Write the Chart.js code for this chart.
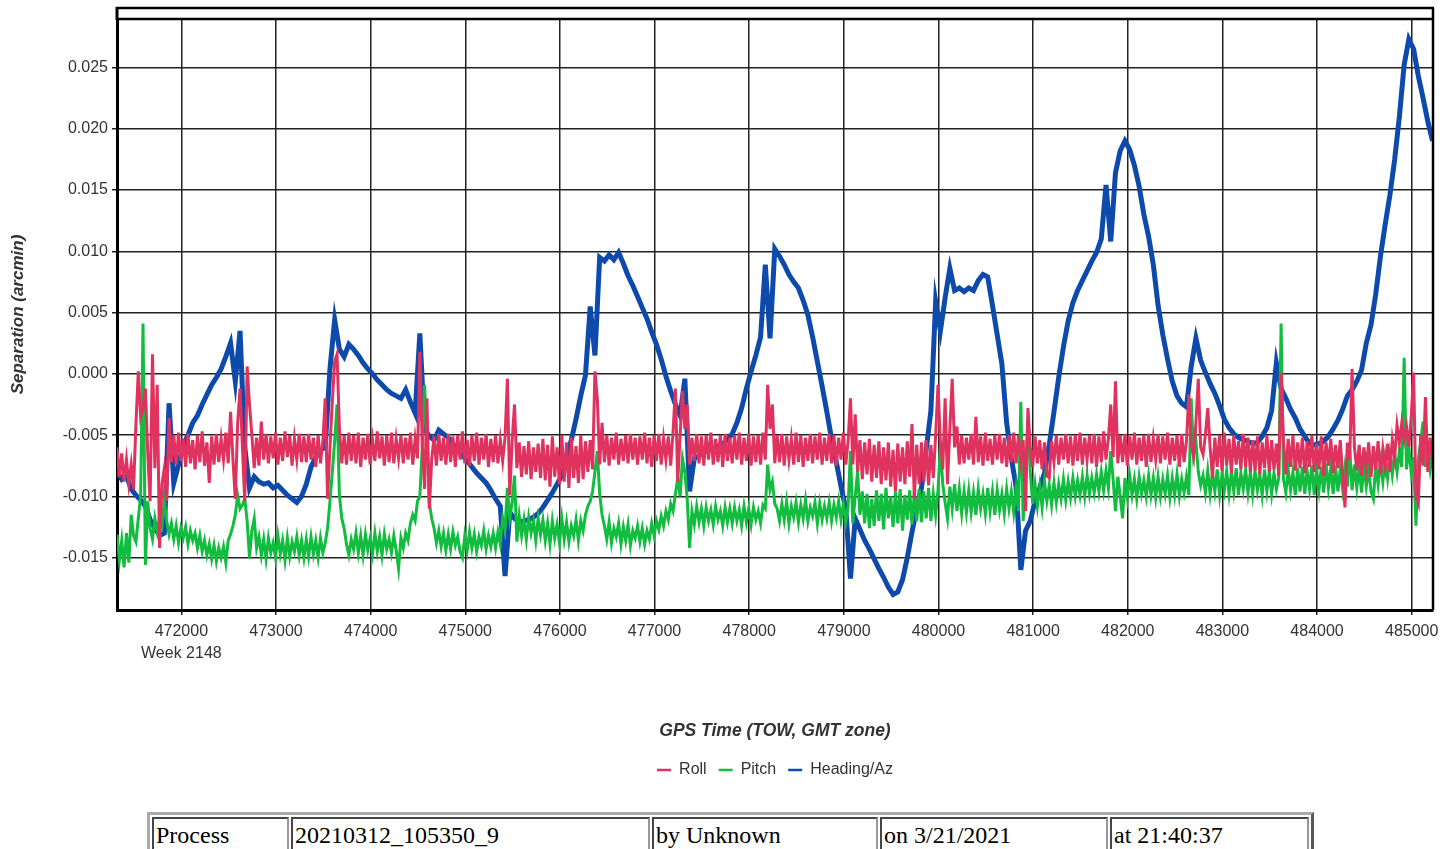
<!DOCTYPE html>
<html>
<head>
<meta charset="utf-8">
<script src="https://cdn.jsdelivr.net/npm/chart.js@4.4.0/dist/chart.umd.min.js"></script>
<style>
  body { margin: 0; background: #fff; }
  #wrap { position: absolute; left: 0; top: 0; width: 1456px; height: 800px; }
  table.info {
    position: absolute; left: 147px; top: 812px;
    border: 3px outset #aaa; border-spacing: 2px;
    font-family: 'Liberation Serif', 'Times New Roman', serif; font-size: 24px;
  }
  table.info td { border: 2px inset #999; padding: 3px 2px 0 2px; height: 40px; vertical-align: top; }
</style>
</head>
<body>
<div id="wrap"><canvas id="chart" width="1456" height="800"></canvas></div>
<table class="info">
  <tr>
    <td style="width:129px">Process</td>
    <td style="width:351px">20210312_105350_9</td>
    <td style="width:218px">by Unknown</td>
    <td style="width:220px">on 3/21/2021</td>
    <td style="width:191px">at 21:40:37</td>
  </tr>
</table>
<script>
// GPS time of week (s) for the heading samples, every 50 s
const times = [
  471320,471370,471420,471470,471520,471570,471620,471670,471720,471770,
  471820,471870,471920,471970,472020,472070,472120,472170,472220,472270,
  472320,472370,472420,472470,472520,472570,472620,472670,472720,472770,
  472820,472870,472920,472970,473020,473070,473120,473170,473220,473270,
  473320,473370,473420,473470,473520,473570,473620,473670,473720,473770,
  473820,473870,473920,473970,474020,474070,474120,474170,474220,474270,
  474320,474370,474420,474470,474520,474570,474620,474670,474720,474770,
  474820,474870,474920,474970,475020,475070,475120,475170,475220,475270,
  475320,475370,475420,475470,475520,475570,475620,475670,475720,475770,
  475820,475870,475920,475970,476020,476070,476120,476170,476220,476270,
  476320,476370,476420,476470,476520,476570,476620,476670,476720,476770,
  476820,476870,476920,476970,477020,477070,477120,477170,477220,477270,
  477320,477370,477420,477470,477520,477570,477620,477670,477720,477770,
  477820,477870,477920,477970,478020,478070,478120,478170,478220,478270,
  478320,478370,478420,478470,478520,478570,478620,478670,478720,478770,
  478820,478870,478920,478970,479020,479070,479120,479170,479220,479270,
  479320,479370,479420,479470,479520,479570,479620,479670,479720,479770,
  479820,479870,479920,479970,480020,480070,480120,480170,480220,480270,
  480320,480370,480420,480470,480520,480570,480620,480670,480720,480770,
  480820,480870,480920,480970,481020,481070,481120,481170,481220,481270,
  481320,481370,481420,481470,481520,481570,481620,481670,481720,481770,
  481820,481870,481920,481970,482020,482070,482120,482170,482220,482270,
  482320,482370,482420,482470,482520,482570,482620,482670,482720,482770,
  482820,482870,482920,482970,483020,483070,483120,483170,483220,483270,
  483320,483370,483420,483470,483520,483570,483620,483670,483720,483770,
  483820,483870,483920,483970,484020,484070,484120,484170,484220,484270,
  484320,484370,484420,484470,484520,484570,484620,484670,484720,484770,
  484820,484870,484920,484970,485020,485070,485120,485170,485220
];

// GPS time of week (s) for the roll / pitch samples, every 25 s
const fineTimes = [
  471320,471345,471370,471395,471420,471445,471470,471495,471520,471545,471570,471595,471620,471645,471670,471695,471720,471745,471770,471795,
  471820,471845,471870,471895,471920,471945,471970,471995,472020,472045,472070,472095,472120,472145,472170,472195,472220,472245,472270,472295,
  472320,472345,472370,472395,472420,472445,472470,472495,472520,472545,472570,472595,472620,472645,472670,472695,472720,472745,472770,472795,
  472820,472845,472870,472895,472920,472945,472970,472995,473020,473045,473070,473095,473120,473145,473170,473195,473220,473245,473270,473295,
  473320,473345,473370,473395,473420,473445,473470,473495,473520,473545,473570,473595,473620,473645,473670,473695,473720,473745,473770,473795,
  473820,473845,473870,473895,473920,473945,473970,473995,474020,474045,474070,474095,474120,474145,474170,474195,474220,474245,474270,474295,
  474320,474345,474370,474395,474420,474445,474470,474495,474520,474545,474570,474595,474620,474645,474670,474695,474720,474745,474770,474795,
  474820,474845,474870,474895,474920,474945,474970,474995,475020,475045,475070,475095,475120,475145,475170,475195,475220,475245,475270,475295,
  475320,475345,475370,475395,475420,475445,475470,475495,475520,475545,475570,475595,475620,475645,475670,475695,475720,475745,475770,475795,
  475820,475845,475870,475895,475920,475945,475970,475995,476020,476045,476070,476095,476120,476145,476170,476195,476220,476245,476270,476295,
  476320,476345,476370,476395,476420,476445,476470,476495,476520,476545,476570,476595,476620,476645,476670,476695,476720,476745,476770,476795,
  476820,476845,476870,476895,476920,476945,476970,476995,477020,477045,477070,477095,477120,477145,477170,477195,477220,477245,477270,477295,
  477320,477345,477370,477395,477420,477445,477470,477495,477520,477545,477570,477595,477620,477645,477670,477695,477720,477745,477770,477795,
  477820,477845,477870,477895,477920,477945,477970,477995,478020,478045,478070,478095,478120,478145,478170,478195,478220,478245,478270,478295,
  478320,478345,478370,478395,478420,478445,478470,478495,478520,478545,478570,478595,478620,478645,478670,478695,478720,478745,478770,478795,
  478820,478845,478870,478895,478920,478945,478970,478995,479020,479045,479070,479095,479120,479145,479170,479195,479220,479245,479270,479295,
  479320,479345,479370,479395,479420,479445,479470,479495,479520,479545,479570,479595,479620,479645,479670,479695,479720,479745,479770,479795,
  479820,479845,479870,479895,479920,479945,479970,479995,480020,480045,480070,480095,480120,480145,480170,480195,480220,480245,480270,480295,
  480320,480345,480370,480395,480420,480445,480470,480495,480520,480545,480570,480595,480620,480645,480670,480695,480720,480745,480770,480795,
  480820,480845,480870,480895,480920,480945,480970,480995,481020,481045,481070,481095,481120,481145,481170,481195,481220,481245,481270,481295,
  481320,481345,481370,481395,481420,481445,481470,481495,481520,481545,481570,481595,481620,481645,481670,481695,481720,481745,481770,481795,
  481820,481845,481870,481895,481920,481945,481970,481995,482020,482045,482070,482095,482120,482145,482170,482195,482220,482245,482270,482295,
  482320,482345,482370,482395,482420,482445,482470,482495,482520,482545,482570,482595,482620,482645,482670,482695,482720,482745,482770,482795,
  482820,482845,482870,482895,482920,482945,482970,482995,483020,483045,483070,483095,483120,483145,483170,483195,483220,483245,483270,483295,
  483320,483345,483370,483395,483420,483445,483470,483495,483520,483545,483570,483595,483620,483645,483670,483695,483720,483745,483770,483795,
  483820,483845,483870,483895,483920,483945,483970,483995,484020,484045,484070,484095,484120,484145,484170,484195,484220,484245,484270,484295,
  484320,484345,484370,484395,484420,484445,484470,484495,484520,484545,484570,484595,484620,484645,484670,484695,484720,484745,484770,484795,
  484820,484845,484870,484895,484920,484945,484970,484995,485020,485045,485070,485095,485120,485145,485170,485195,485220
];

const roll = [
  -0.0060,-0.0084,-0.0065,-0.0088,-0.0070,-0.0090,-0.0074,-0.0094,-0.0041,0.0002,-0.0035,-0.0028,-0.0012,-0.0065,-0.0104,0.0016,-0.0077,-0.0009,-0.0142,-0.0090,
  -0.0077,-0.0104,-0.0036,-0.0072,-0.0050,-0.0074,-0.0048,-0.0071,-0.0053,-0.0076,-0.0049,-0.0073,-0.0054,-0.0078,-0.0050,-0.0072,-0.0047,-0.0075,-0.0056,-0.0089,
  -0.0051,-0.0074,-0.0049,-0.0072,-0.0053,-0.0070,-0.0048,-0.0073,-0.0031,-0.0070,-0.0102,-0.0040,-0.0012,-0.0060,-0.0104,0.0006,-0.0025,-0.0050,-0.0077,-0.0052,
  -0.0075,-0.0039,-0.0070,-0.0049,-0.0073,-0.0051,-0.0069,-0.0048,-0.0074,-0.0052,-0.0071,-0.0047,-0.0068,-0.0050,-0.0075,-0.0053,-0.0070,-0.0049,-0.0072,-0.0051,
  -0.0072,-0.0049,-0.0070,-0.0052,-0.0076,-0.0050,-0.0073,-0.0055,-0.0020,-0.0102,-0.0060,-0.0023,0.0010,0.0016,-0.0044,-0.0073,-0.0050,-0.0074,-0.0048,-0.0071,
  -0.0050,-0.0073,-0.0048,-0.0076,-0.0052,-0.0070,-0.0049,-0.0074,-0.0054,-0.0071,-0.0047,-0.0069,-0.0051,-0.0075,-0.0050,-0.0072,-0.0048,-0.0073,-0.0053,-0.0069,
  -0.0050,-0.0073,-0.0052,-0.0070,-0.0048,-0.0074,-0.0053,-0.0069,0.0018,-0.0058,-0.0094,-0.0020,-0.0110,-0.0070,-0.0051,-0.0075,-0.0049,-0.0071,-0.0052,-0.0074,
  -0.0049,-0.0072,-0.0051,-0.0076,-0.0050,-0.0070,-0.0047,-0.0073,-0.0054,-0.0075,-0.0050,-0.0071,-0.0048,-0.0074,-0.0052,-0.0070,-0.0049,-0.0076,-0.0053,-0.0072,
  -0.0050,-0.0073,-0.0054,-0.0071,-0.0052,-0.0004,-0.0099,-0.0055,-0.0025,-0.0077,-0.0056,-0.0084,-0.0059,-0.0082,-0.0055,-0.0086,-0.0060,-0.0080,-0.0057,-0.0085,
  -0.0053,-0.0087,-0.0058,-0.0092,-0.0051,-0.0084,-0.0060,-0.0090,-0.0050,-0.0088,-0.0056,-0.0093,-0.0052,-0.0085,-0.0059,-0.0089,-0.0050,-0.0086,-0.0055,-0.0080,
  -0.0054,-0.0078,0.0002,-0.0020,-0.0074,-0.0040,-0.0072,-0.0050,-0.0075,-0.0052,-0.0070,-0.0048,-0.0074,-0.0053,-0.0071,-0.0050,-0.0073,-0.0049,-0.0070,-0.0052,
  -0.0074,-0.0051,-0.0070,-0.0048,-0.0073,-0.0052,-0.0076,-0.0050,-0.0071,-0.0049,-0.0074,-0.0053,-0.0070,-0.0051,-0.0075,-0.0048,-0.0012,-0.0088,-0.0050,-0.0014,
  -0.0045,-0.0025,-0.0074,-0.0052,-0.0071,-0.0049,-0.0073,-0.0051,-0.0075,-0.0050,-0.0070,-0.0048,-0.0074,-0.0053,-0.0072,-0.0050,-0.0076,-0.0049,-0.0071,-0.0052,
  -0.0073,-0.0050,-0.0070,-0.0048,-0.0074,-0.0052,-0.0071,-0.0049,-0.0075,-0.0051,-0.0072,-0.0050,-0.0074,-0.0048,-0.0070,-0.0009,-0.0045,-0.0025,-0.0073,-0.0050,
  -0.0072,-0.0049,-0.0075,-0.0051,-0.0070,-0.0053,-0.0074,-0.0048,-0.0072,-0.0050,-0.0076,-0.0052,-0.0071,-0.0049,-0.0073,-0.0051,-0.0070,-0.0048,-0.0074,-0.0052,
  -0.0071,-0.0049,-0.0073,-0.0050,-0.0075,-0.0052,-0.0070,-0.0048,-0.0074,-0.0055,-0.0020,-0.0074,-0.0033,-0.0080,-0.0054,-0.0086,-0.0056,-0.0082,-0.0053,-0.0088,
  -0.0058,-0.0085,-0.0055,-0.0090,-0.0060,-0.0087,-0.0056,-0.0092,-0.0062,-0.0096,-0.0057,-0.0088,-0.0060,-0.0090,-0.0055,-0.0084,-0.0041,-0.0102,-0.0058,-0.0090,
  -0.0056,-0.0088,-0.0054,-0.0091,-0.0058,-0.0085,-0.0050,-0.0009,-0.0055,-0.0078,-0.0020,-0.0090,-0.0045,-0.0004,-0.0060,-0.0043,-0.0074,-0.0050,-0.0073,-0.0052,
  -0.0070,-0.0049,-0.0074,-0.0035,-0.0072,-0.0051,-0.0075,-0.0048,-0.0071,-0.0053,-0.0074,-0.0050,-0.0070,-0.0049,-0.0073,-0.0052,-0.0076,-0.0050,-0.0072,-0.0048,
  -0.0073,-0.0050,-0.0071,-0.0054,-0.0112,-0.0028,-0.0060,-0.0076,-0.0051,-0.0073,-0.0054,-0.0078,-0.0056,-0.0083,-0.0085,-0.0055,-0.0072,-0.0050,-0.0074,-0.0052,
  -0.0070,-0.0049,-0.0073,-0.0051,-0.0075,-0.0050,-0.0071,-0.0048,-0.0074,-0.0052,-0.0070,-0.0050,-0.0073,-0.0049,-0.0076,-0.0051,-0.0072,-0.0047,-0.0070,-0.0053,
  -0.0025,-0.0068,-0.0006,-0.0073,-0.0050,-0.0072,-0.0049,-0.0075,-0.0051,-0.0070,-0.0048,-0.0074,-0.0052,-0.0071,-0.0050,-0.0076,-0.0049,-0.0072,-0.0053,-0.0070,
  -0.0049,-0.0073,-0.0051,-0.0070,-0.0048,-0.0074,-0.0052,-0.0071,-0.0050,-0.0076,-0.0049,-0.0072,-0.0055,-0.0017,-0.0058,-0.0068,-0.0040,-0.0004,-0.0060,-0.0066,
  -0.0050,-0.0028,-0.0060,-0.0085,-0.0052,-0.0076,-0.0050,-0.0079,-0.0048,-0.0075,-0.0053,-0.0081,-0.0050,-0.0074,-0.0055,-0.0078,-0.0049,-0.0076,-0.0052,-0.0080,
  -0.0054,-0.0079,-0.0051,-0.0082,-0.0056,-0.0077,-0.0050,-0.0080,-0.0054,-0.0078,-0.0057,-0.0083,0.0001,-0.0055,-0.0082,-0.0053,-0.0076,-0.0050,-0.0079,-0.0056,
  -0.0077,-0.0052,-0.0081,-0.0055,-0.0076,-0.0050,-0.0080,-0.0057,-0.0078,-0.0051,-0.0083,-0.0056,-0.0075,-0.0053,-0.0081,-0.0058,-0.0077,-0.0054,-0.0082,-0.0109,
  -0.0056,-0.0070,0.0004,-0.0060,-0.0079,-0.0058,-0.0083,-0.0060,-0.0077,-0.0056,-0.0084,-0.0059,-0.0078,-0.0055,-0.0082,-0.0061,-0.0076,-0.0057,-0.0080,-0.0054,
  -0.0068,-0.0042,-0.0056,-0.0040,-0.0054,-0.0043,-0.0060,-0.0035,0.0001,-0.0100,-0.0106,-0.0050,-0.0075,-0.0019,-0.0080,-0.0052,-0.0070
];

const pitch = [
  -0.0131,-0.0152,-0.0136,-0.0158,-0.0130,-0.0154,-0.0115,-0.0132,-0.0137,-0.0118,-0.0099,0.0041,-0.0156,-0.0104,-0.0126,-0.0135,-0.0118,-0.0129,-0.0116,-0.0123,
  -0.0104,-0.0120,-0.0131,-0.0122,-0.0135,-0.0124,-0.0138,-0.0126,-0.0134,-0.0125,-0.0139,-0.0128,-0.0136,-0.0130,-0.0142,-0.0132,-0.0145,-0.0136,-0.0148,-0.0139,
  -0.0151,-0.0140,-0.0153,-0.0142,-0.0150,-0.0141,-0.0154,-0.0136,-0.0131,-0.0124,-0.0115,-0.0099,-0.0110,-0.0107,-0.0102,-0.0120,-0.0150,-0.0128,-0.0118,-0.0142,
  -0.0133,-0.0148,-0.0135,-0.0151,-0.0134,-0.0146,-0.0138,-0.0150,-0.0132,-0.0147,-0.0136,-0.0152,-0.0134,-0.0149,-0.0137,-0.0145,-0.0133,-0.0148,-0.0136,-0.0150,
  -0.0135,-0.0149,-0.0133,-0.0147,-0.0136,-0.0150,-0.0134,-0.0146,-0.0138,-0.0126,-0.0104,-0.0080,-0.0055,-0.0025,-0.0099,-0.0118,-0.0126,-0.0139,-0.0148,-0.0135,
  -0.0143,-0.0130,-0.0146,-0.0132,-0.0148,-0.0131,-0.0144,-0.0134,-0.0147,-0.0130,-0.0145,-0.0133,-0.0148,-0.0131,-0.0143,-0.0135,-0.0146,-0.0132,-0.0144,-0.0159,
  -0.0134,-0.0142,-0.0130,-0.0136,-0.0122,-0.0115,-0.0120,-0.0104,-0.0100,-0.0060,-0.0009,-0.0055,-0.0105,-0.0118,-0.0126,-0.0138,-0.0128,-0.0141,-0.0130,-0.0144,
  -0.0131,-0.0143,-0.0129,-0.0140,-0.0133,-0.0145,-0.0150,-0.0132,-0.0144,-0.0129,-0.0142,-0.0131,-0.0145,-0.0133,-0.0140,-0.0128,-0.0143,-0.0132,-0.0141,-0.0130,
  -0.0142,-0.0129,-0.0139,-0.0118,-0.0126,-0.0093,-0.0118,-0.0105,-0.0083,-0.0137,-0.0116,-0.0132,-0.0119,-0.0135,-0.0117,-0.0130,-0.0120,-0.0136,-0.0118,-0.0131,
  -0.0119,-0.0136,-0.0122,-0.0139,-0.0120,-0.0134,-0.0123,-0.0138,-0.0118,-0.0135,-0.0121,-0.0137,-0.0124,-0.0132,-0.0119,-0.0136,-0.0120,-0.0128,-0.0115,-0.0108,
  -0.0104,-0.0096,-0.0080,-0.0063,-0.0098,-0.0115,-0.0124,-0.0135,-0.0121,-0.0138,-0.0126,-0.0133,-0.0122,-0.0139,-0.0125,-0.0136,-0.0123,-0.0140,-0.0128,-0.0134,
  -0.0124,-0.0137,-0.0126,-0.0139,-0.0128,-0.0135,-0.0122,-0.0132,-0.0120,-0.0127,-0.0116,-0.0124,-0.0112,-0.0119,-0.0106,-0.0112,-0.0098,-0.0085,-0.0100,-0.0069,
  -0.0080,-0.0102,-0.0142,-0.0112,-0.0123,-0.0108,-0.0121,-0.0110,-0.0124,-0.0109,-0.0120,-0.0111,-0.0123,-0.0108,-0.0119,-0.0112,-0.0124,-0.0109,-0.0121,-0.0110,
  -0.0122,-0.0109,-0.0120,-0.0111,-0.0124,-0.0108,-0.0121,-0.0110,-0.0123,-0.0109,-0.0119,-0.0112,-0.0122,-0.0107,-0.0110,-0.0074,-0.0095,-0.0088,-0.0106,-0.0110,
  -0.0120,-0.0106,-0.0119,-0.0104,-0.0122,-0.0108,-0.0117,-0.0105,-0.0121,-0.0107,-0.0118,-0.0103,-0.0120,-0.0109,-0.0116,-0.0105,-0.0122,-0.0106,-0.0119,-0.0108,
  -0.0118,-0.0105,-0.0120,-0.0107,-0.0117,-0.0104,-0.0119,-0.0106,-0.0121,-0.0108,-0.0063,-0.0122,-0.0100,-0.0080,-0.0115,-0.0096,-0.0122,-0.0098,-0.0126,-0.0102,
  -0.0124,-0.0095,-0.0120,-0.0098,-0.0127,-0.0093,-0.0118,-0.0100,-0.0125,-0.0096,-0.0122,-0.0094,-0.0128,-0.0099,-0.0119,-0.0095,-0.0123,-0.0097,-0.0120,-0.0094,
  -0.0121,-0.0096,-0.0118,-0.0093,-0.0120,-0.0098,-0.0115,-0.0095,-0.0058,-0.0090,-0.0105,-0.0118,-0.0092,-0.0110,-0.0090,-0.0112,-0.0094,-0.0114,-0.0096,-0.0113,
  -0.0095,-0.0113,-0.0097,-0.0115,-0.0094,-0.0110,-0.0098,-0.0114,-0.0093,-0.0112,-0.0096,-0.0115,-0.0095,-0.0111,-0.0098,-0.0114,-0.0094,-0.0110,-0.0096,-0.0113,
  -0.0094,-0.0112,-0.0023,-0.0120,-0.0075,-0.0039,-0.0080,-0.0106,-0.0090,-0.0108,-0.0092,-0.0109,-0.0088,-0.0104,-0.0091,-0.0107,-0.0089,-0.0105,-0.0090,-0.0102,
  -0.0086,-0.0103,-0.0088,-0.0101,-0.0085,-0.0100,-0.0087,-0.0099,-0.0084,-0.0100,-0.0083,-0.0098,-0.0085,-0.0097,-0.0082,-0.0096,-0.0080,-0.0095,-0.0079,-0.0093,
  -0.0063,-0.0086,-0.0112,-0.0084,-0.0100,-0.0118,-0.0085,-0.0101,-0.0083,-0.0099,-0.0086,-0.0102,-0.0084,-0.0098,-0.0087,-0.0100,-0.0083,-0.0099,-0.0085,-0.0101,
  -0.0084,-0.0100,-0.0086,-0.0098,-0.0083,-0.0101,-0.0085,-0.0099,-0.0082,-0.0100,-0.0086,-0.0097,-0.0084,-0.0099,-0.0020,-0.0066,-0.0055,-0.0080,-0.0091,-0.0083,
  -0.0097,-0.0079,-0.0098,-0.0081,-0.0096,-0.0078,-0.0099,-0.0082,-0.0095,-0.0079,-0.0098,-0.0080,-0.0096,-0.0077,-0.0099,-0.0081,-0.0094,-0.0078,-0.0097,-0.0080,
  -0.0098,-0.0079,-0.0095,-0.0082,-0.0099,-0.0078,-0.0096,-0.0080,-0.0098,-0.0081,-0.0094,-0.0085,0.0041,-0.0086,-0.0097,-0.0078,-0.0095,-0.0080,-0.0099,-0.0077,
  -0.0096,-0.0076,-0.0098,-0.0079,-0.0094,-0.0075,-0.0099,-0.0078,-0.0095,-0.0076,-0.0097,-0.0073,-0.0093,-0.0077,-0.0098,-0.0075,-0.0096,-0.0078,-0.0094,-0.0076,
  -0.0092,-0.0061,-0.0095,-0.0074,-0.0093,-0.0076,-0.0097,-0.0075,-0.0092,-0.0078,-0.0096,-0.0102,-0.0074,-0.0090,-0.0072,-0.0088,-0.0069,-0.0085,-0.0066,-0.0082,
  -0.0065,-0.0080,-0.0063,-0.0076,0.0013,-0.0078,-0.0060,-0.0081,-0.0068,-0.0124,-0.0070,-0.0055,-0.0039,-0.0076,-0.0062,-0.0078,-0.0065
];

const heading = [
  -0.0080,-0.0086,-0.0083,-0.0094,-0.0099,-0.0103,-0.0108,-0.0119,-0.0126,-0.0132,
  -0.0130,-0.0024,-0.0089,-0.0074,-0.0058,-0.0050,-0.0040,-0.0034,-0.0025,-0.0017,
  -0.0009,-0.0003,0.0004,0.0014,0.0025,-0.0006,0.0035,-0.0060,-0.0093,-0.0084,
  -0.0088,-0.0090,-0.0089,-0.0093,-0.0091,-0.0095,-0.0099,-0.0102,-0.0105,-0.0100,
  -0.0090,-0.0076,-0.0068,-0.0062,-0.0060,0.0004,0.0044,0.0020,0.0014,0.0024,
  0.0020,0.0015,0.0009,0.0004,0.0000,-0.0005,-0.0009,-0.0013,-0.0016,-0.0018,
  -0.0020,-0.0013,-0.0023,-0.0032,0.0033,-0.0045,-0.0051,-0.0054,-0.0046,-0.0049,
  -0.0052,-0.0057,-0.0062,-0.0067,-0.0071,-0.0076,-0.0081,-0.0085,-0.0089,-0.0095,
  -0.0102,-0.0108,-0.0165,-0.0113,-0.0118,-0.0121,-0.0120,-0.0119,-0.0117,-0.0114,
  -0.0109,-0.0103,-0.0097,-0.0090,-0.0083,-0.0069,-0.0054,-0.0037,-0.0018,-0.0001,
  0.0055,0.0015,0.0095,0.0092,0.0097,0.0093,0.0099,0.0090,0.0080,0.0072,
  0.0063,0.0054,0.0045,0.0034,0.0024,0.0012,-0.0002,-0.0014,-0.0025,-0.0034,
  -0.0004,-0.0096,-0.0069,-0.0067,-0.0064,-0.0062,-0.0061,-0.0059,-0.0057,-0.0054,
  -0.0049,-0.0040,-0.0028,-0.0012,0.0002,0.0015,0.0030,0.0089,0.0029,0.0102,
  0.0096,0.0089,0.0081,0.0075,0.0070,0.0060,0.0048,0.0030,0.0010,-0.0010,
  -0.0031,-0.0053,-0.0072,-0.0092,-0.0110,-0.0167,-0.0118,-0.0127,-0.0136,-0.0143,
  -0.0151,-0.0159,-0.0166,-0.0174,-0.0180,-0.0178,-0.0168,-0.0150,-0.0129,-0.0110,
  -0.0093,-0.0062,-0.0030,0.0059,0.0035,0.0062,0.0086,0.0068,0.0070,0.0067,
  0.0070,0.0068,0.0076,0.0081,0.0079,0.0056,0.0032,0.0008,-0.0040,-0.0069,
  -0.0092,-0.0160,-0.0128,-0.0120,-0.0104,-0.0093,-0.0081,-0.0058,-0.0031,-0.0003,
  0.0022,0.0043,0.0058,0.0068,0.0076,0.0084,0.0092,0.0099,0.0110,0.0154,
  0.0108,0.0164,0.0182,0.0190,0.0183,0.0170,0.0153,0.0130,0.0112,0.0089,
  0.0056,0.0032,0.0012,-0.0006,-0.0018,-0.0024,-0.0027,0.0006,0.0029,0.0011,
  0.0001,-0.0008,-0.0016,-0.0026,-0.0037,-0.0044,-0.0049,-0.0052,-0.0054,-0.0055,
  -0.0057,-0.0056,-0.0051,-0.0044,-0.0030,0.0009,-0.0012,-0.0020,-0.0029,-0.0036,
  -0.0045,-0.0051,-0.0057,-0.0058,-0.0057,-0.0055,-0.0051,-0.0045,-0.0038,-0.0029,
  -0.0018,-0.0013,-0.0006,0.0003,0.0025,0.0040,0.0065,0.0096,0.0122,0.0146,
  0.0175,0.0210,0.0252,0.0273,0.0265,0.0243,0.0225,0.0206,0.0190
];

const xTicks = [472000,473000,474000,475000,476000,477000,478000,479000,480000,481000,482000,483000,484000,485000];
const yTicks = [-0.015,-0.010,-0.005,0.000,0.005,0.010,0.015,0.020,0.025];
const weekLabel = 'Week 2148';

const pts = (ts, arr) => ts.map((t, i) => ({x: t, y: arr[i]}));

Chart.defaults.font.family = "'Liberation Sans', Arial, sans-serif";
Chart.defaults.color = '#333';

// double top line and right edge of the plot frame
const framePlugin = {
  id: 'frame',
  afterDraw(chart) {
    const {ctx, chartArea: a} = chart;
    ctx.save();
    ctx.strokeStyle = '#000';
    ctx.lineWidth = 2.5;
    ctx.beginPath();
    ctx.moveTo(a.left - 1, a.top - 11); ctx.lineTo(a.right + 1, a.top - 11);
    ctx.moveTo(a.left, a.top); ctx.lineTo(a.right, a.top);
    ctx.moveTo(a.right, a.top - 11); ctx.lineTo(a.right, a.bottom);
    ctx.stroke();
    ctx.lineWidth = 3;
    ctx.beginPath();
    ctx.moveTo(a.left, a.top - 12); ctx.lineTo(a.left, a.top + 1);
    ctx.stroke();
    ctx.restore();
  }
};

new Chart(document.getElementById('chart'), {
  type: 'line',
  data: {
    datasets: [
      { label: 'Roll', data: pts(fineTimes, roll), borderColor: '#E0325F', backgroundColor: '#E0325F', borderWidth: 3 },
      { label: 'Pitch', data: pts(fineTimes, pitch), borderColor: '#12BC3E', backgroundColor: '#12BC3E', borderWidth: 3 },
      { label: 'Heading/Az', data: pts(times, heading), borderColor: '#0D4AAB', backgroundColor: '#0D4AAB', borderWidth: 5 }
    ]
  },
  options: {
    responsive: false,
    animation: false,
    elements: { point: { radius: 0 }, line: { tension: 0 } },
    layout: { padding: { top: 19, right: 23, bottom: 12, left: 0 } },
    scales: {
      x: {
        type: 'linear',
        min: 471320,
        max: 485225,
        afterBuildTicks: s => { s.ticks = xTicks.map(v => ({value: v})); },
        afterFit: s => { s.height = 140; },
        ticks: {
          font: { size: 16, lineHeight: '22px' },
          color: '#333',
          padding: 6,
          maxRotation: 0,
          callback: v => v === xTicks[0] ? [String(v), weekLabel] : String(v)
        },
        grid: { color: '#222', lineWidth: 1.5, tickLength: 5 },
        border: { color: '#000', width: 3 },
        title: {
          display: true,
          text: 'GPS Time (TOW, GMT zone)',
          font: { size: 17.5, weight: 'bold', style: 'italic' },
          color: '#333',
          padding: { top: 0, bottom: 8.5 }
        }
      },
      y: {
        min: -0.01927,
        max: 0.02895,
        afterBuildTicks: s => { s.ticks = yTicks.map(v => ({value: v})); },
        afterFit: s => { s.width = 117; },
        ticks: {
          font: { size: 16 },
          color: '#333',
          padding: 4,
          callback: v => v.toFixed(3)
        },
        grid: { color: '#222', lineWidth: 1.5, tickLength: 5 },
        border: { color: '#000', width: 3 },
        title: {
          display: true,
          text: 'Separation (arcmin)',
          font: { size: 17, weight: 'bold', style: 'italic' },
          color: '#333',
          padding: { top: 8, bottom: 0 }
        }
      }
    },
    plugins: {
      legend: {
        position: 'bottom',
        fullSize: false,
        labels: {
          usePointStyle: true,
          pointStyle: 'line',
          pointStyleWidth: 14,
          boxHeight: 3,
          padding: 12,
          color: '#333',
          font: { size: 16 },
          generateLabels: chart => Chart.defaults.plugins.legend.labels.generateLabels(chart)
            .map(l => Object.assign(l, { lineWidth: 2.5, pointStyle: 'line' }))
        }
      },
      tooltip: { enabled: false }
    }
  },
  plugins: [framePlugin]
});
</script>
</body>
</html>
